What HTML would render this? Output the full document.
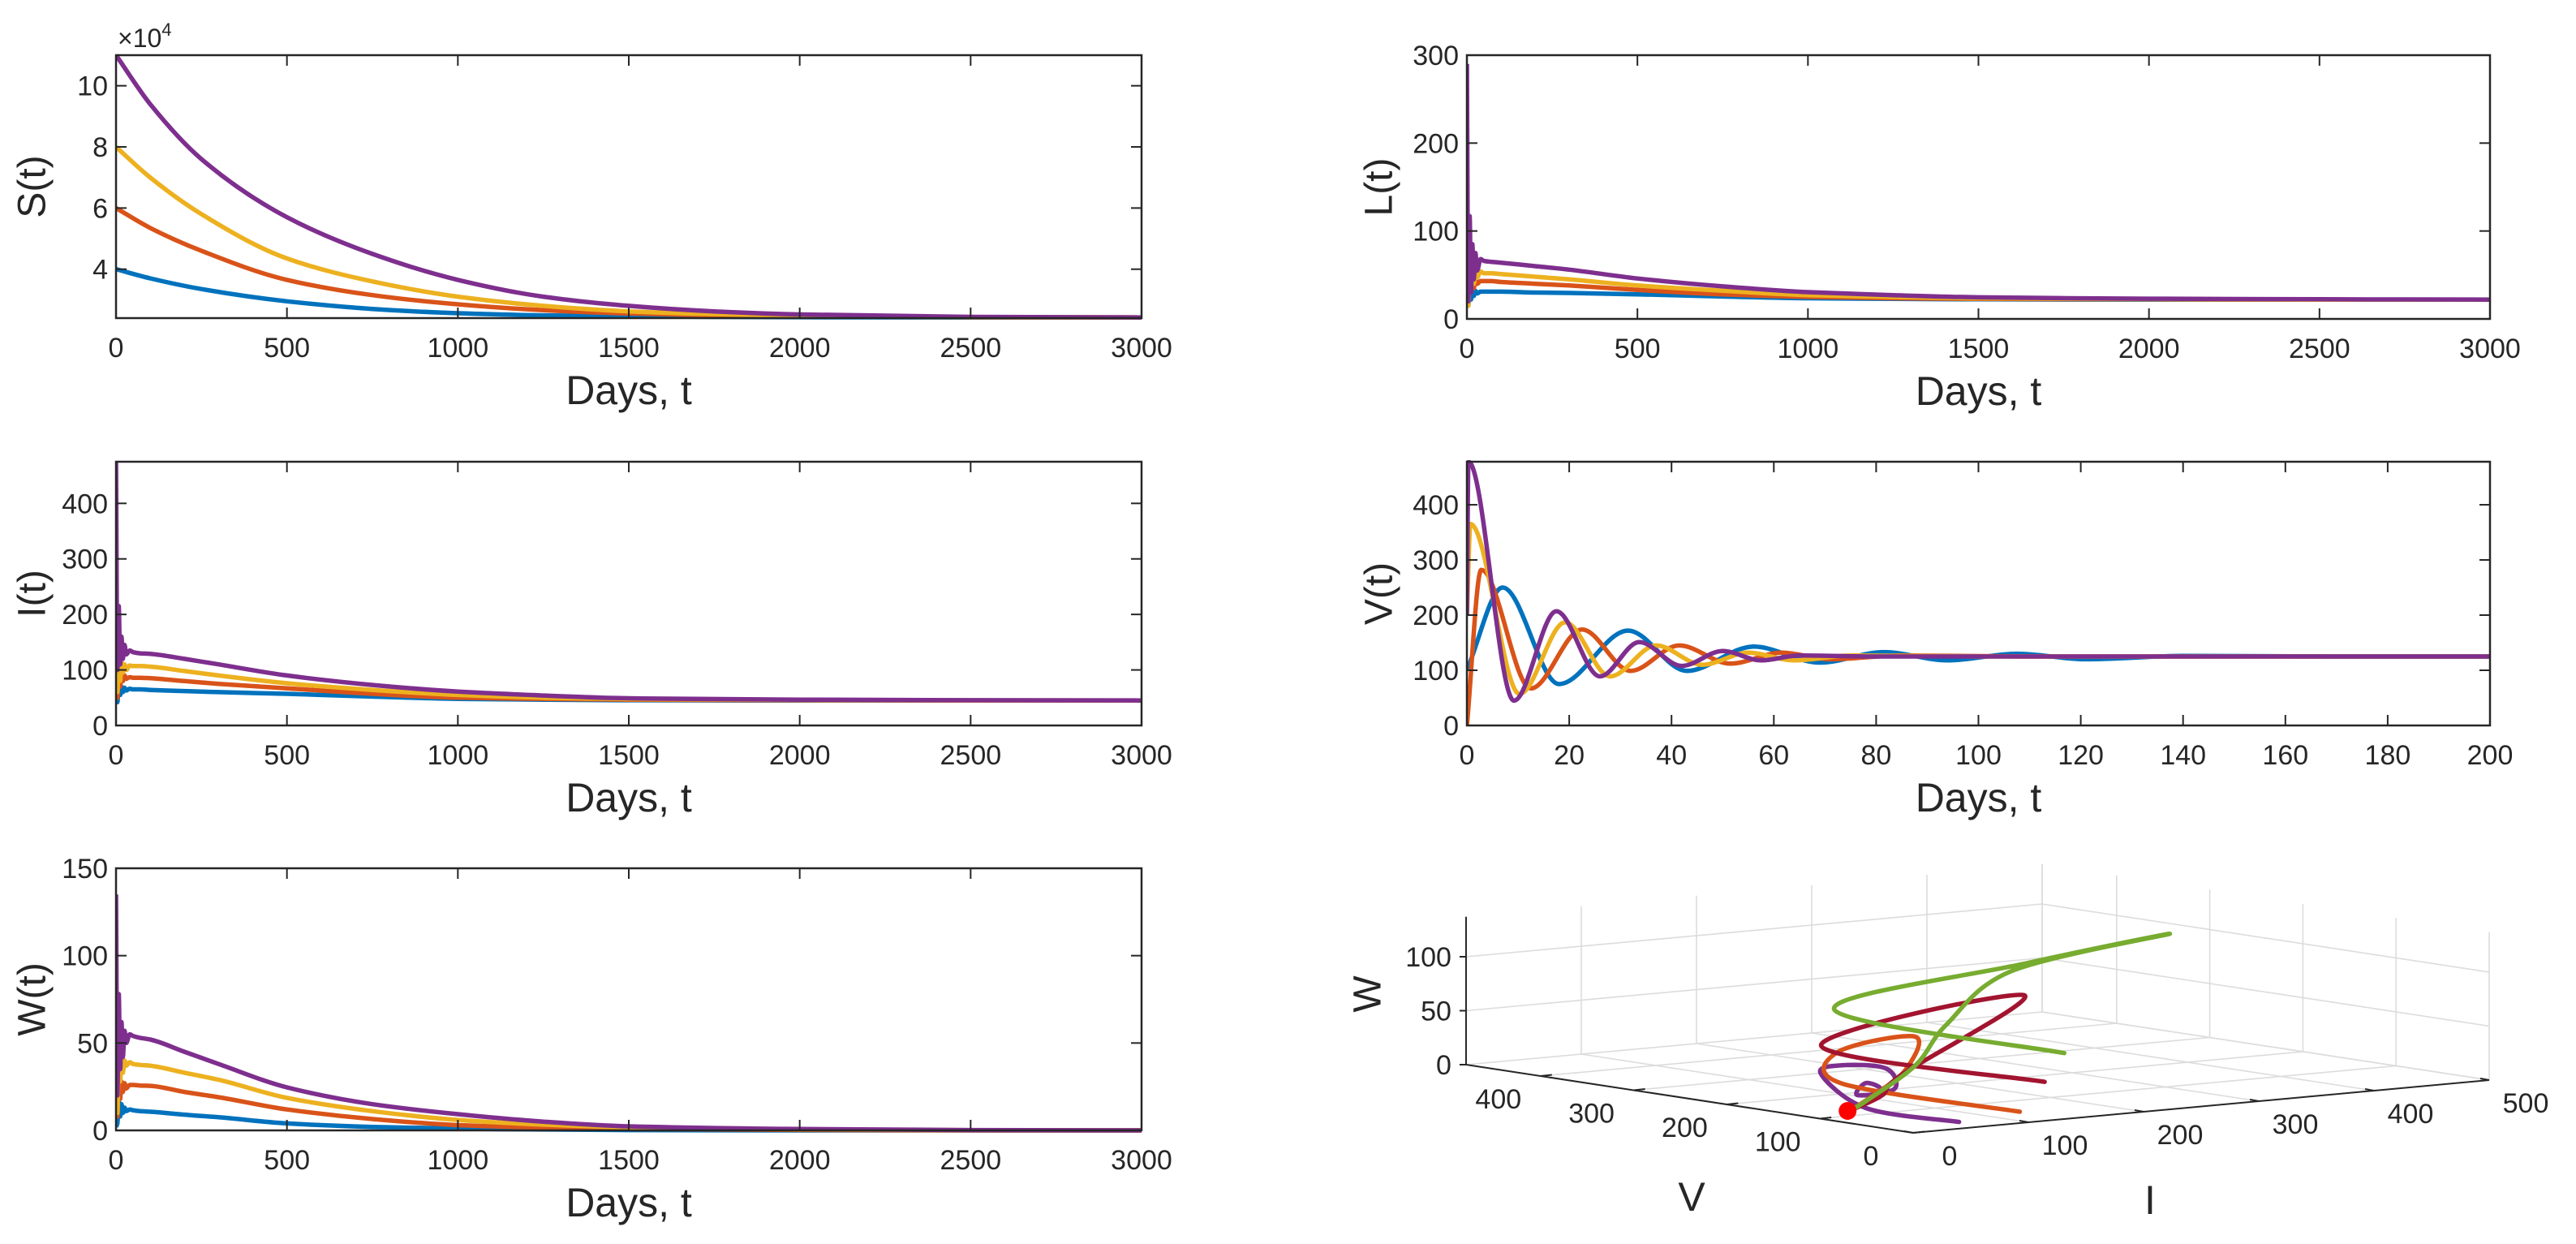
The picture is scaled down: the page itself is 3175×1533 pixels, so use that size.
<!DOCTYPE html>
<html><head><meta charset="utf-8"><style>
html,body{margin:0;padding:0;background:#fff;}
svg{display:block;font-family:"Liberation Sans",Arial,sans-serif;}
</style></head><body>
<svg id="fig" width="3175" height="1533" viewBox="0 0 3175 1533" xmlns="http://www.w3.org/2000/svg">
<rect width="3175" height="1533" fill="#fff"/>
</svg>
<script>
// ---------- data ----------
const tGrid = [0,4,8,12,16,20,25,30,40,50,70,100,200,300,500,750,1000,1250,1500,2000,2500,3000];
const sTimes = [0,100,250,500,750,1000,1250,1500,1750,2000,2500,3000];
const sBlue   = [4.0,3.7,3.35,2.95,2.7,2.56,2.49,2.46,2.44,2.43,2.42,2.42];
const sOrange = [6.0,5.35,4.6,3.65,3.15,2.85,2.66,2.55,2.49,2.46,2.43,2.42];
const sYellow = [8.0,7.0,5.8,4.35,3.6,3.1,2.8,2.62,2.53,2.48,2.43,2.42];
const sPurple = [11.0,9.4,7.6,5.7,4.5,3.65,3.1,2.8,2.62,2.52,2.44,2.42];

const lBlue   = [25,15,35,22,33,26,32,29,31,31,31,31,30,29.5,28,25.5,23.5,22.8,22.3,22,22,22];
const lOrange = [40,18,48,30,46,35,44,40,43,43,43,42,40,38,33,28,25,23.5,22.8,22.3,22,22];
const lYellow = [40,15,60,35,58,40,55,47,54,52,52,51,48,45,38,32,27,25,23.5,22.5,22,22];
const lPurple = [290,20,117,30,85,45,75,55,68,66,65,64,60,56,46,37,30.5,27,24.6,23,22.3,22];

const iBlue   = [50,42,75,55,70,60,68,63,66,65,65,64,62,60,57,52,48,46.5,45.5,45,45,45];
const iOrange = [150,50,100,70,95,80,90,84,87,86,86,85,80,75,67,57,50,48,46.5,45.5,45,45];
const iYellow = [250,60,120,80,115,95,110,100,108,107,107,106,98,90,76,64,55,50,47.5,46,45.2,45];
const iPurple = [475,100,215,110,160,120,145,128,135,132,130,129,120,110,90,73,61,54,49,46.5,45.5,45];

const wBlue   = [2,4,17,8,15,10,13,11,12,11.5,11,10.7,9,7.5,4,2,1,0.5,0.2,0,0,0];
const wOrange = [8,8,30,18,28,22,27,24,26,26,25.7,25.5,22,19,12,6.5,3,1.6,0.8,0.3,0,0];
const wYellow = [15,10,45,28,42,33,40,37,39,38,37.5,37,33,29,18.6,11,6,3.3,1.8,0.6,0.1,0];
const wPurple = [135,20,78,35,62,42,57,50,55,54,53,52,45,38,24.6,15,9.3,5,2.3,0.8,0.2,0];

const vBlueT   = [0,7,18,31.5,43,56,69,81.5,94,107.5,121,140,170,200];
const vBlue    = [100,250,75,172,99,143,114,133,118,130,120,126,125,125];
const vOrangeT = [0,2.8,12.5,22.5,32,41.5,51.5,61.5,71,85,110,200];
const vOrange  = [0,282,67,174,99,145,112,132,120,127,125,125];
const vYellowT = [0,0.7,10.3,19.2,28,37,46,55,64,75,100,200];
const vYellow  = [200,365,57,187,89,145,110,132,118,127,125,125];
const vPurpleT = [0,0.3,9.2,17.5,26,33.7,42,50,57.5,65,80,200];
const vPurple  = [200,478,45,207,89,151,108,135,118,127,125,125];

// 3D trajectories (I, V, W)
const gI = [212,212,302,344,207,134,99,60,47];
const gV = [100,347,250,150,150,130,120,125,125];
const gW = [40,48,95,131,110,70,37,7,0];
const rI = [195,195,258,96,74,47];
const rV = [100,340,200,130,125,125];
const rW = [15,17,76,28,11,0];
const oI = [133,133,177,163,107,67,47];
const oV = [50,241,300,200,140,125,125];
const oW = [0,1,18,47,30,12,0];
const pI = [56,24,122,140,122,89,73,48,65,47];
const pV = [20,80,250,250,180,130,150,110,115,125];
const pW = [2,10,10,16,24,15,8,27,17,0];
const eqI = [47], eqV = [125], eqW = [0];

const tTicks3000 = [0,500,1000,1500,2000,2500,3000];
const tTicks200 = [0,20,40,60,80,100,120,140,160,180,200];
const vTicks3d = [0,100,200,300,400];
const iTicks3d = [0,100,200,300,400,500];
const wTicks3d = [0,50,100];

// ---------- helpers ----------
const NS = "http://www.w3.org/2000/svg";
const svg = document.getElementById('fig');
const TF = 34, LF = 50, YF = 48, LW = 5.5;
function mk(tag, attrs, parent){
  const e = document.createElementNS(NS, tag);
  for (const k in attrs) e.setAttribute(k, attrs[k]);
  (parent||svg).appendChild(e);
  return e;
}
const C = {blue:'#0072BD', orange:'#D95319', yellow:'#EDB120', purple:'#7E2F8E', green:'#77AC30', dred:'#A2142F', red:'#FF0000'};

function monotonePath(pts){
  const n = pts.length;
  if (n < 2) return '';
  const dx=[], m=[], s=[];
  for (let i=0;i<n-1;i++){ dx[i]=pts[i+1][0]-pts[i][0]; s[i]=(pts[i+1][1]-pts[i][1])/(dx[i]||1e-9); }
  m[0]=s[0]; m[n-1]=s[n-2];
  for (let i=1;i<n-1;i++){
    if (s[i-1]*s[i] <= 0) m[i]=0;
    else { const w1=2*dx[i]+dx[i-1], w2=dx[i]+2*dx[i-1]; m[i]=(w1+w2)/(w1/s[i-1]+w2/s[i]); }
  }
  let d = `M${pts[0][0].toFixed(1)},${pts[0][1].toFixed(1)}`;
  for (let i=0;i<n-1;i++){
    const h=dx[i]/3;
    d += ` C${(pts[i][0]+h).toFixed(1)},${(pts[i][1]+m[i]*h).toFixed(1)} ${(pts[i+1][0]-h).toFixed(1)},${(pts[i+1][1]-m[i+1]*h).toFixed(1)} ${pts[i+1][0].toFixed(1)},${pts[i+1][1].toFixed(1)}`;
  }
  return d;
}
function catmull(pts){
  let d = `M${pts[0][0].toFixed(1)},${pts[0][1].toFixed(1)}`;
  for (let i=0;i<pts.length-1;i++){
    const p0=pts[Math.max(0,i-1)], p1=pts[i], p2=pts[i+1], p3=pts[Math.min(pts.length-1,i+2)];
    const c1=[p1[0]+(p2[0]-p0[0])/6, p1[1]+(p2[1]-p0[1])/6];
    const c2=[p2[0]-(p3[0]-p1[0])/6, p2[1]-(p3[1]-p1[1])/6];
    d += ` C${c1[0].toFixed(1)},${c1[1].toFixed(1)} ${c2[0].toFixed(1)},${c2[1].toFixed(1)} ${p2[0].toFixed(1)},${p2[1].toFixed(1)}`;
  }
  return d;
}

let clipId = 0;
function panel(cfg){
  const g = mk('g', {});
  
  
  const sx = v => cfg.x0 + (v - cfg.xmin)/(cfg.xmax - cfg.xmin)*(cfg.x1 - cfg.x0);
  const sy = v => cfg.y1 - (v - cfg.ymin)/(cfg.ymax - cfg.ymin)*(cfg.y1 - cfg.y0);
  const cid = 'clip'+(clipId++);
  const cp = mk('clipPath', {id:cid}, g);
  mk('rect', {x:cfg.x0, y:cfg.y0-2, width:cfg.x1-cfg.x0, height:cfg.y1-cfg.y0+8}, cp);
  const lg = mk('g', {'clip-path':`url(#${cid})`}, g);
  cfg.series.forEach(s => {
    const pts = s.t.map((t,i)=>[sx(t), sy(s.v[i])]);
    const p = mk('path', {d: monotonePath(pts), fill:'none', stroke:s.color, 'stroke-width':LW, 'stroke-linejoin':'round'}, lg);
    
    
  });
  const box = mk('rect', {x:cfg.x0, y:cfg.y0, width:cfg.x1-cfg.x0, height:cfg.y1-cfg.y0, fill:'none', stroke:'#262626', 'stroke-width':2.5}, g);
  
  
  cfg.xticks.forEach(t => {
    const x = sx(t);
    mk('line', {x1:x, x2:x, y1:cfg.y1, y2:cfg.y1-13, stroke:'#262626', 'stroke-width':2}, g);
    mk('line', {x1:x, x2:x, y1:cfg.y0, y2:cfg.y0+13, stroke:'#262626', 'stroke-width':2}, g);
    const tx = mk('text', {x:x, y:cfg.y1+48, 'font-size':TF, fill:'#262626', 'text-anchor':'middle'}, g);
    tx.textContent = t;
    
    
  });
  cfg.yticks.forEach((t,i) => {
    const y = sy(t);
    mk('line', {x1:cfg.x0, x2:cfg.x0+13, y1:y, y2:y, stroke:'#262626', 'stroke-width':2}, g);
    mk('line', {x1:cfg.x1, x2:cfg.x1-13, y1:y, y2:y, stroke:'#262626', 'stroke-width':2}, g);
    const tx = mk('text', {x:cfg.x0-10, y:y+12, 'font-size':TF, fill:'#262626', 'text-anchor':'end'}, g);
    tx.textContent = t;
    
    
  });
  const xl = mk('text', {x:(cfg.x0+cfg.x1)/2, y:cfg.y1+106, 'font-size':LF, fill:'#262626', 'text-anchor':'middle'}, g);
  xl.textContent = 'Days, t';
  
  
  const ycx = cfg.ylx, ycy = (cfg.y0+cfg.y1)/2;
  const yl = mk('text', {x:ycx, y:ycy, 'font-size':YF, fill:'#262626', 'text-anchor':'middle', 'dominant-baseline':'central', transform:`rotate(-90 ${ycx} ${ycy})`}, g);
  yl.textContent = cfg.ylabel;
  
  
  return g;
}

const ser = (t, b, o, y, p) => [
  {t:t, v:b, color:C.blue, name:'series-blue'},
  {t:t, v:o, color:C.orange, name:'series-orange'},
  {t:t, v:y, color:C.yellow, name:'series-yellow'},
  {t:t, v:p, color:C.purple, name:'series-purple'}];

panel({name:'s-panel', x0:143, x1:1407, y0:68, y1:392, xmin:0, xmax:3000, ymin:2.4, ymax:11,
  xticks:tTicks3000, yticks:[4,6,8,10], ylabel:'S(t)', ylx:40, series:ser(sTimes,sBlue,sOrange,sYellow,sPurple)});
const mult = mk('text', {x:145, y:58, 'font-size':32, fill:'#262626'});
mult.innerHTML = '×10<tspan dy="-14" font-size="22">4</tspan>';



panel({name:'l-panel', x0:1808, x1:3069, y0:68, y1:393, xmin:0, xmax:3000, ymin:0, ymax:300,
  xticks:tTicks3000, yticks:[0,100,200,300], ylabel:'L(t)', ylx:1700, series:ser(tGrid,lBlue,lOrange,lYellow,lPurple)});

panel({name:'i-panel', x0:143, x1:1407, y0:569, y1:894, xmin:0, xmax:3000, ymin:0, ymax:475,
  xticks:tTicks3000, yticks:[0,100,200,300,400], ylabel:'I(t)', ylx:40, series:ser(tGrid,iBlue,iOrange,iYellow,iPurple)});

panel({name:'v-panel', x0:1808, x1:3069, y0:569, y1:894, xmin:0, xmax:200, ymin:0, ymax:478,
  xticks:tTicks200, yticks:[0,100,200,300,400], ylabel:'V(t)', ylx:1700, series:[
    {t:vBlueT, v:vBlue, color:C.blue, name:'series-blue'},
    {t:vOrangeT, v:vOrange, color:C.orange, name:'series-orange'},
    {t:vYellowT, v:vYellow, color:C.yellow, name:'series-yellow'},
    {t:vPurpleT, v:vPurple, color:C.purple, name:'series-purple'}]});

panel({name:'w-panel', x0:143, x1:1407, y0:1070, y1:1393, xmin:0, xmax:3000, ymin:0, ymax:150,
  xticks:tTicks3000, yticks:[0,50,100,150], ylabel:'W(t)', ylx:40, series:ser(tGrid,wBlue,wOrange,wYellow,wPurple)});

// ---------- 3D panel ----------
const g3 = mk('g', {});


const O = [2358, 1396];
const VMAX = 480, IMAX = 500, WMAX = 137;
function P(I, V, W){
  return [O[0] + 1.42*I - 1.148*V, O[1] - 0.13*I - 0.175*V - 1.33*W];
}
function line3(a, b, attrs){
  const p = P(...a), q = P(...b);
  return mk('line', Object.assign({x1:p[0], y1:p[1], x2:q[0], y2:q[1]}, attrs), g3);
}
const gridA = {stroke:'#dcdcdc', 'stroke-width':1.6};
vTicks3d.forEach(v => line3([0,v,0],[IMAX,v,0], gridA));
iTicks3d.forEach(i => line3([i,0,0],[i,VMAX,0], gridA));
iTicks3d.forEach(i => line3([i,VMAX,0],[i,VMAX,WMAX], gridA));
wTicks3d.forEach(w => line3([0,VMAX,w],[IMAX,VMAX,w], gridA));
vTicks3d.forEach(v => line3([IMAX,v,0],[IMAX,v,WMAX], gridA));
wTicks3d.forEach(w => line3([IMAX,0,w],[IMAX,VMAX,w], gridA));
line3([IMAX,VMAX,0],[IMAX,VMAX,WMAX], gridA);
const axA = {stroke:'#262626', 'stroke-width':2};
line3([0,VMAX,0],[0,VMAX,WMAX], axA);
line3([0,0,0],[0,VMAX,0], axA);
line3([0,0,0],[IMAX,0,0], axA);
vTicks3d.forEach(v => {
  const p = P(0,v,0);
  mk('line', {x1:p[0], y1:p[1], x2:p[0]+14, y2:p[1]-1.5, stroke:'#262626', 'stroke-width':2}, g3);
  const t = mk('text', {x:p[0]-52, y:p[1]+40, 'font-size':TF, fill:'#262626', 'text-anchor':'middle'}, g3);
  t.textContent = v;
  
  
});
iTicks3d.forEach(i => {
  const p = P(i,0,0);
  mk('line', {x1:p[0], y1:p[1], x2:p[0]-11, y2:p[1]-2, stroke:'#262626', 'stroke-width':2}, g3);
  const t = mk('text', {x:p[0]+45, y:p[1]+40, 'font-size':TF, fill:'#262626', 'text-anchor':'middle'}, g3);
  t.textContent = i;
  
  
});
wTicks3d.forEach(w => {
  const p = P(0,VMAX,w);
  mk('line', {x1:p[0]-8, y1:p[1], x2:p[0], y2:p[1], stroke:'#262626', 'stroke-width':2}, g3);
  const t = mk('text', {x:p[0]-18, y:p[1]+12, 'font-size':TF, fill:'#262626', 'text-anchor':'end'}, g3);
  t.textContent = w;
  
  
});
const wl = mk('text', {x:1686, y:1225, 'font-size':YF, fill:'#262626', 'text-anchor':'middle', 'dominant-baseline':'central', transform:'rotate(-90 1686 1225)'}, g3);
wl.textContent = 'W';


const vl = mk('text', {x:2085, y:1492, 'font-size':LF, fill:'#262626', 'text-anchor':'middle'}, g3);
vl.textContent = 'V';


const il = mk('text', {x:2650, y:1496, 'font-size':LF, fill:'#262626', 'text-anchor':'middle'}, g3);
il.textContent = 'I';



function traj(I, V, W, color, name){
  const pts = I.map((v,k) => P(v, V[k], W[k]));
  const p = mk('path', {d:catmull(pts), fill:'none', stroke:color, 'stroke-width':LW, 'stroke-linejoin':'round', 'stroke-linecap':'round'}, g3);
  
  
}
traj(pI, pV, pW, C.purple, 'trajectory-purple');
traj(oI, oV, oW, C.orange, 'trajectory-orange');
traj(rI, rV, rW, C.dred, 'trajectory-darkred');
traj(gI, gV, gW, C.green, 'trajectory-green');
const ep = P(eqI[0], eqV[0], eqW[0]);
const dot = mk('circle', {cx:ep[0]-4, cy:ep[1]+1, r:11, fill:C.red}, g3);


</script>
</body></html>
